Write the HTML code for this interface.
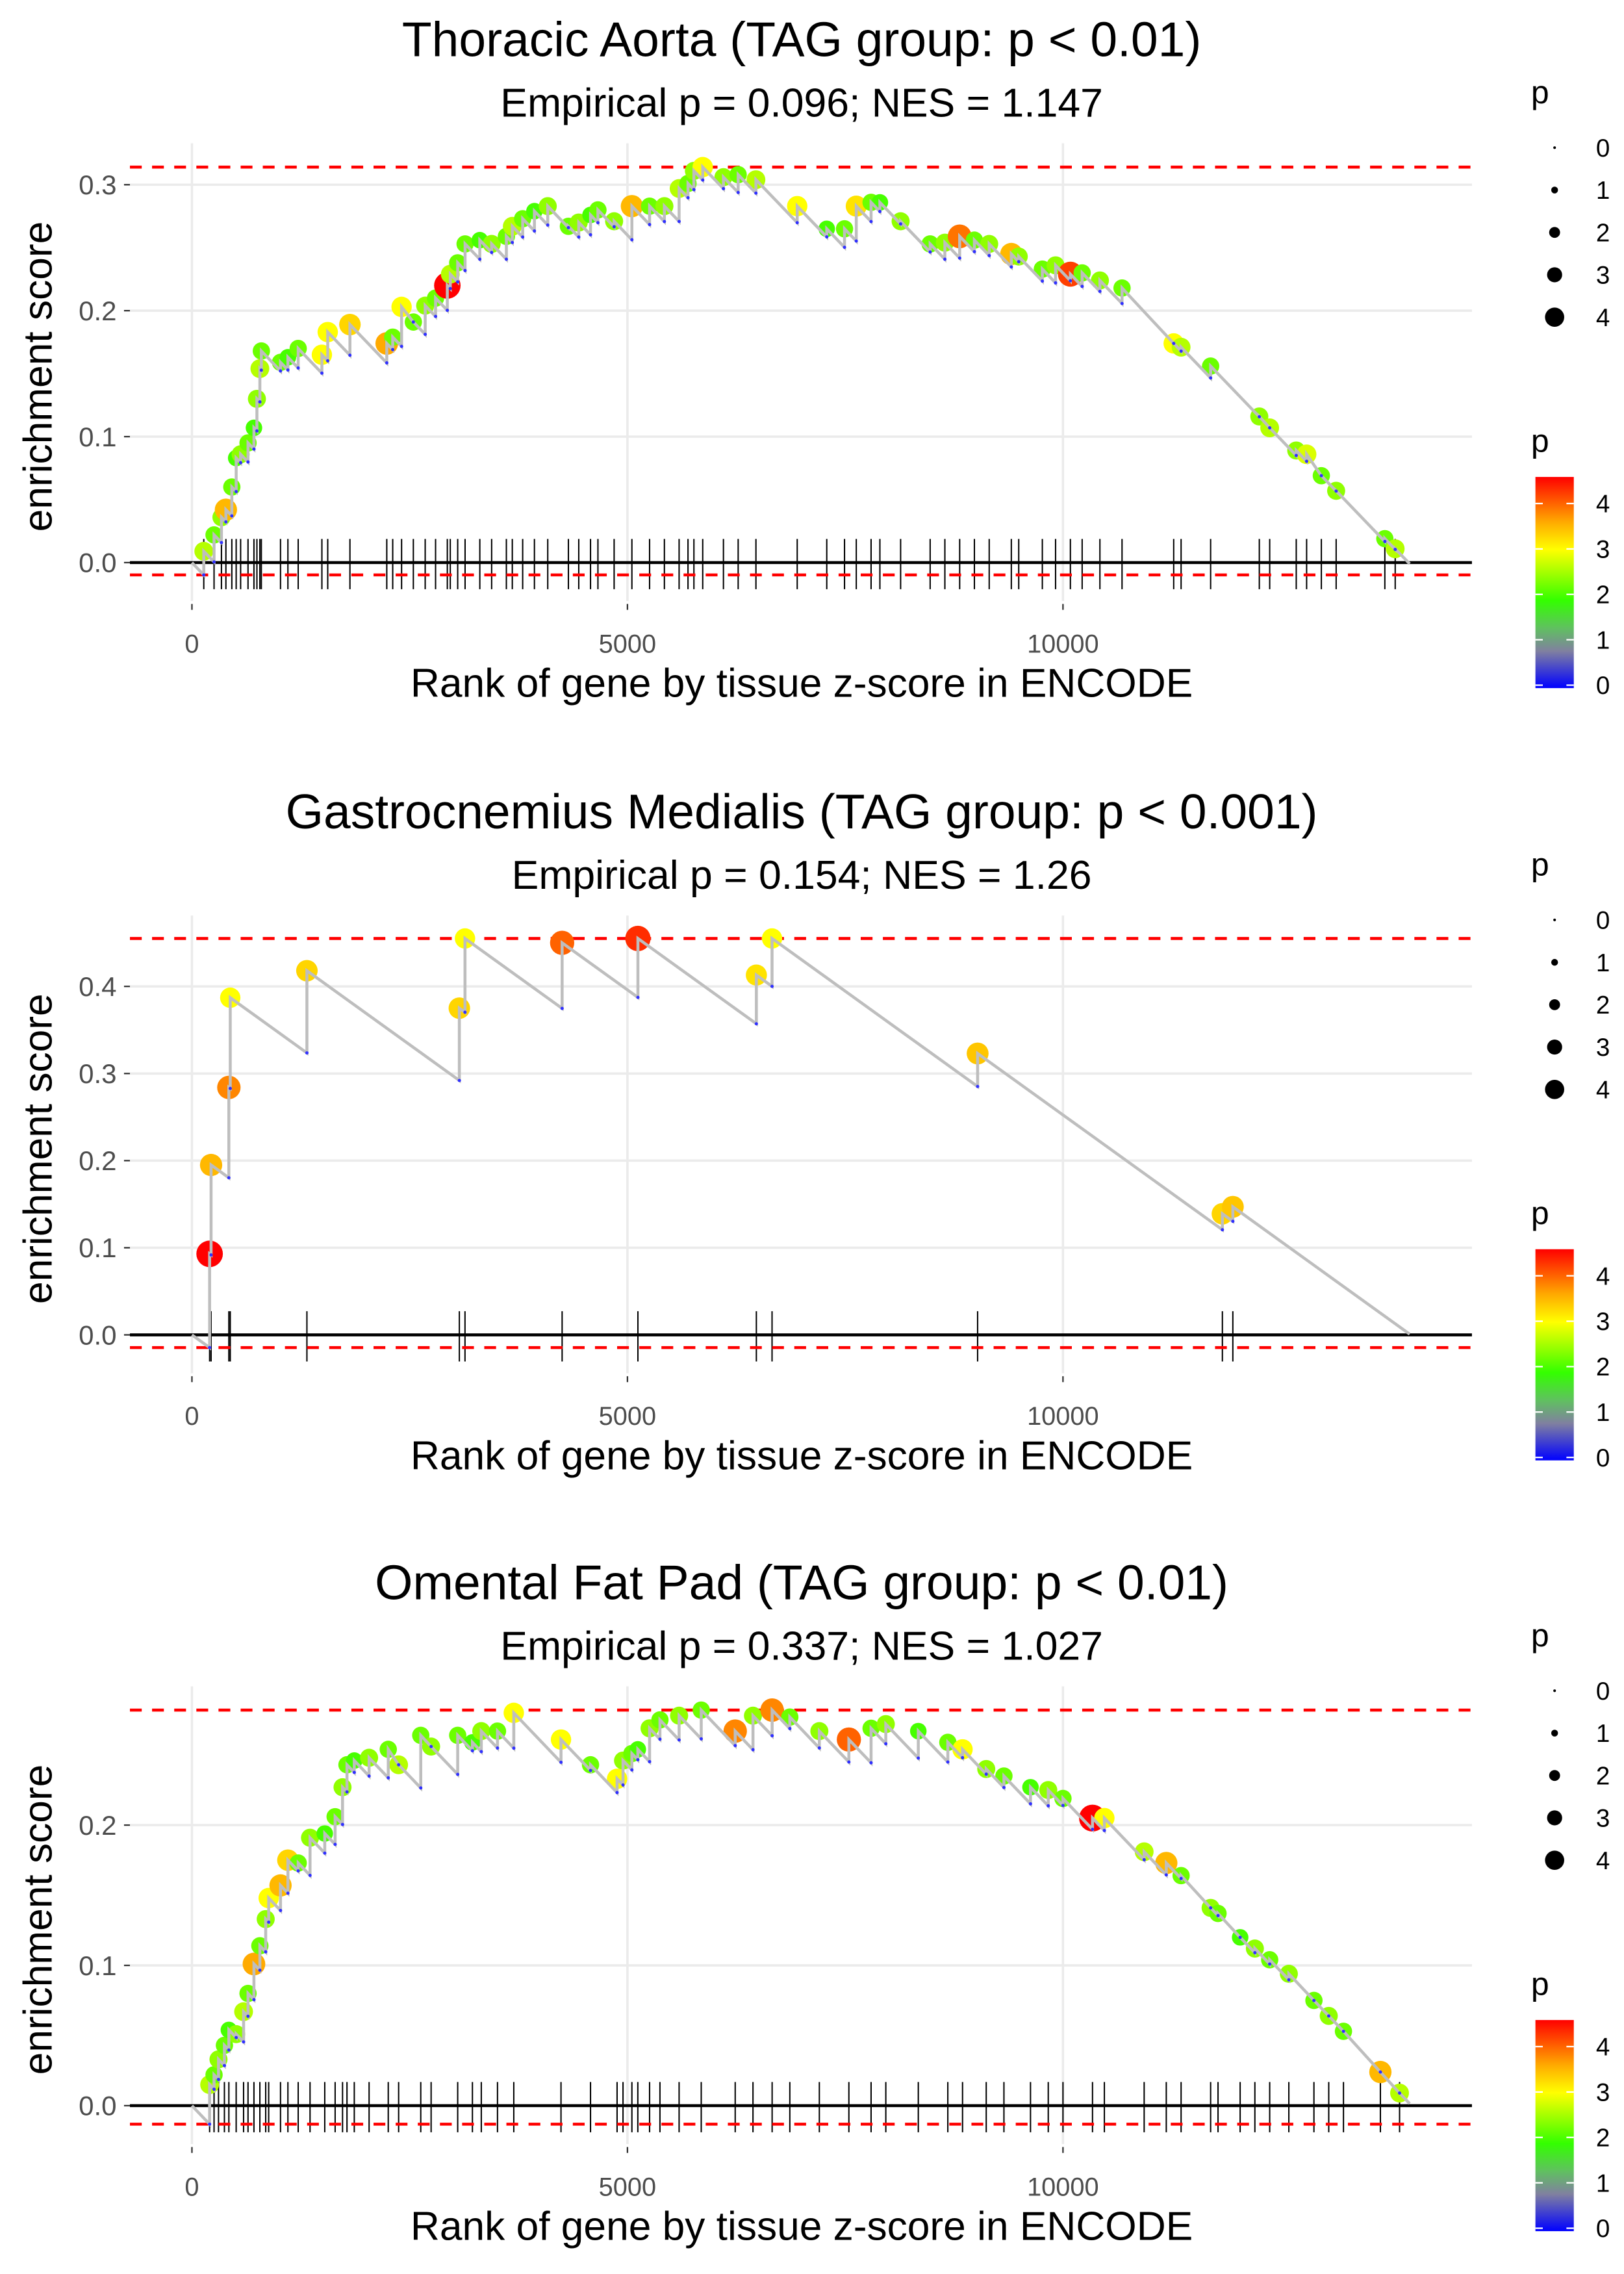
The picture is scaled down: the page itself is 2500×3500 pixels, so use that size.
<!DOCTYPE html>
<html><head><meta charset="utf-8"><style>
html,body{margin:0;padding:0;background:#fff;}
svg{display:block;font-family:"Liberation Sans",sans-serif;}
</style></head><body>
<svg id="chart" width="2500" height="3500" viewBox="0 0 1100 1540" xmlns="http://www.w3.org/2000/svg">
<defs>
<linearGradient id="pgrad" x1="0" y1="1" x2="0" y2="0">
<stop offset="0" stop-color="#0000ff"/><stop offset="0.175" stop-color="#8080a0"/><stop offset="0.284" stop-color="#60c060"/><stop offset="0.415" stop-color="#33ff00"/><stop offset="0.655" stop-color="#ffff00"/><stop offset="0.786" stop-color="#ffaa00"/><stop offset="1" stop-color="#ff0000"/>
</linearGradient>
</defs>
</svg>
<script>
// ---- Panel 1: Thoracic Aorta ----
const p1Ranks=[136,254,339,390,458,508,559,644,712,746,780,797,1017,1102,1220,1492,1559,1814,2237,2305,2407,2542,2678,2797,2932,2966,3051,3136,3305,3441,3610,3678,3797,3932,4085,4322,4441,4576,4661,4847,5051,5254,5424,5593,5695,5763,5864,6102,6271,6475,6949,7288,7492,7627,7797,7898,8136,8475,8644,8814,8983,9153,9407,9492,9763,9915,10085,10220,10424,10678,11271,11356,11695,12254,12373,12678,12797,12966,13136,13695,13814];
const p1ES=[.009,.022,.036,.042,.060,.083,.086,.095,.107,.130,.154,.168,.159,.163,.170,.165,.183,.189,.174,.179,.203,.191,.204,.210,.220,.229,.238,.253,.256,.253,.259,.267,.273,.279,.283,.267,.270,.276,.280,.271,.283,.283,.283,.297,.301,.311,.314,.306,.308,.304,.283,.265,.265,.283,.286,.286,.271,.253,.254,.259,.256,.253,.245,.243,.233,.236,.229,.230,.224,.218,.174,.171,.156,.116,.107,.089,.086,.069,.057,.019,.011];
const p1P=[2.6,2.2,2.4,3.5,2.2,2.0,2.4,2.2,2.0,2.4,2.6,2.2,2.2,2.0,2.2,3.0,3.0,3.3,3.6,2.2,3.0,2.2,2.4,2.2,4.6,2.6,2.2,2.2,2.0,2.4,2.2,2.6,2.2,2.0,2.4,2.2,2.4,2.0,2.2,2.4,3.5,2.2,2.4,2.6,2.2,2.4,3.0,2.4,2.2,2.6,3.0,2.0,2.2,3.2,2.2,2.0,2.4,2.2,2.4,3.9,2.2,2.4,3.5,2.4,2.2,2.4,4.2,2.2,2.4,2.2,3.0,2.6,2.2,2.4,2.6,2.4,2.8,2.2,2.4,2.2,2.6];
const p1YTicks=[0,0.1,0.2,0.3];
const p1YLabels=["0.0","0.1","0.2","0.3"];
// ---- Panel 2: Gastrocnemius Medialis ----
const p2Ranks=[203,220,424,440,1320,3070,3135,4250,5120,6480,6660,9020,11830,11950];
const p2ES=[.093,.195,.284,.387,.418,.375,.455,.450,.455,.413,.455,.323,.139,.147];
const p2P=[4.6,3.5,3.8,3.0,3.3,3.3,3.0,4.0,4.3,3.2,3.0,3.4,3.3,3.4];
const p2YTicks=[0,0.1,0.2,0.3,0.4];
const p2YLabels=["0.0","0.1","0.2","0.3","0.4"];
// ---- Panel 3: Omental Fat Pad ----
const p3Ranks=[203,254,305,373,424,508,593,644,712,780,847,881,1017,1102,1220,1356,1525,1644,1729,1780,1864,2034,2254,2373,2627,2746,3051,3220,3322,3508,3695,4237,4576,4881,4949,5051,5119,5254,5373,5593,5847,6237,6441,6661,6864,7203,7542,7797,7966,8339,8678,8847,9119,9322,9627,9831,10000,10339,10475,10932,11186,11356,11695,11780,12034,12203,12373,12593,12881,13051,13220,13644,13864];
const p3ES=[.015,.022,.033,.043,.054,.051,.067,.080,.101,.114,.133,.148,.157,.175,.173,.191,.194,.206,.227,.243,.246,.248,.254,.243,.264,.256,.264,.259,.267,.267,.280,.261,.243,.233,.246,.251,.254,.269,.275,.278,.282,.267,.278,.282,.277,.267,.261,.269,.272,.267,.259,.254,.240,.235,.227,.225,.219,.205,.205,.181,.173,.164,.141,.137,.120,.112,.104,.094,.075,.064,.053,.024,.009];
const p3P=[2.6,2.2,2.4,2.2,2.0,2.4,2.6,2.2,3.6,2.2,2.4,3.0,3.5,3.3,2.2,2.4,2.0,2.2,2.4,2.2,2.0,2.4,2.2,2.6,2.2,2.4,2.2,2.0,2.4,2.2,3.0,3.0,2.2,3.0,2.4,2.2,2.0,2.4,2.2,2.4,2.2,3.8,2.4,3.8,2.2,2.4,4.0,2.2,2.4,2.0,2.2,3.0,2.4,2.2,2.0,2.4,2.2,4.7,3.0,2.6,3.5,2.2,2.4,2.2,2.0,2.4,2.2,2.4,2.2,2.4,2.2,3.5,2.6];
const p3YTicks=[0,0.1,0.2];
const p3YLabels=["0.0","0.1","0.2"];
const xTicks=[0,5000,10000];
const xLabels=["0","5000","10000"];
const sizeLegend=[0,1,2,3,4];
const colorLegend=[0,1,2,3,4];

const NS="http://www.w3.org/2000/svg";
const svg=document.getElementById('chart');
function mk(tag,attrs,parent){const e=document.createElementNS(NS,tag);for(const k in attrs)e.setAttribute(k,attrs[k]);(parent||svg).appendChild(e);return e;}
const stops=[[0,[0,0,255]],[0.8,[128,128,160]],[1.3,[96,192,96]],[1.9,[51,255,0]],[3,[255,255,0]],[3.6,[255,170,0]],[4.55,[255,0,0]]];
function pColor(p){if(p<=0)return 'rgb(0,0,255)';for(let i=1;i<stops.length;i++){if(p<=stops[i][0]){const a=stops[i-1],b=stops[i],t=(p-a[0])/(b[0]-a[0]);const c=a[1].map((v,j)=>Math.round(v+(b[1][j]-v)*t));return 'rgb('+c.join(',')+')';}}return 'rgb(255,0,0)';}
function pRad(p){return 3+1.3*p;}
const N=13980;
function xS(r){return 130+r*0.059;}

function panel(o){
  const {dy,y0,k,ranks,es,ps,slope,yTicks,yLabels,title,sub,name}=o;
  const g=mk('g',{});
  
  
  const yS=v=>y0-v*k;
  const top=97+dy,bot=407+dy;
  yTicks.forEach(t=>{const l=mk('line',{x1:88,x2:997,y1:yS(t),y2:yS(t),stroke:'#ebebeb','stroke-width':1.6},g);});
  xTicks.forEach(t=>{const l=mk('line',{x1:xS(t),x2:xS(t),y1:top,y2:bot,stroke:'#ebebeb','stroke-width':1.6},g);});
  const before=[];let prevR=0,prevE=0;
  for(let i=0;i<ranks.length;i++){let b=prevE-slope*(ranks[i]-prevR);if(b>es[i])b=es[i];before.push(b);prevR=ranks[i];prevE=es[i];}
  const endE=prevE-slope*(N-prevR);
  const maxE=Math.max(...es),minE=Math.min(0,...before,endE);
  const zl=mk('line',{x1:88,x2:997,y1:yS(0),y2:yS(0),stroke:'#000','stroke-width':2},g);
  
  ranks.forEach(r=>{const l=mk('line',{x1:xS(r),x2:xS(r),y1:yS(0)-16,y2:yS(0)+18,stroke:'#000','stroke-width':0.9},g);});
  [maxE,minE].forEach((v,i)=>{const l=mk('line',{x1:88,x2:997,y1:yS(v),y2:yS(v),stroke:'#ff0000','stroke-width':2,'stroke-dasharray':'8,7'},g);});
  ranks.forEach((r,i)=>{const c=mk('circle',{cx:xS(r),cy:yS(es[i]),r:pRad(ps[i]),fill:pColor(ps[i])},g);});
  let d='M'+xS(0)+','+yS(0);
  ranks.forEach((r,i)=>{d+=' L'+xS(r)+','+yS(before[i])+' L'+xS(r)+','+yS(es[i]);});
  d+=' L'+xS(N)+','+yS(endE);
  const pl=mk('path',{d:d,fill:'none',stroke:'#bebebe','stroke-width':2},g);
  
  ranks.forEach((r,i)=>{const c=mk('circle',{cx:xS(r),cy:yS(before[i]),r:1.1,fill:'#3030ff'},g);});
  yTicks.forEach((t,i)=>{const l=mk('line',{x1:84,x2:88,y1:yS(t),y2:yS(t),stroke:'#333','stroke-width':1},g);
    const tx=mk('text',{x:79,y:yS(t)+6.5,'text-anchor':'end','font-size':18.5,fill:'#4d4d4d'},g);tx.textContent=yLabels[i];});
  xTicks.forEach((t,i)=>{const l=mk('line',{x1:xS(t),x2:xS(t),y1:bot+2,y2:bot+6,stroke:'#333','stroke-width':1},g);
    const tx=mk('text',{x:xS(t),y:dy+442,'text-anchor':'middle','font-size':17.5,fill:'#4d4d4d'},g);tx.textContent=xLabels[i];});
  let t=mk('text',{x:543,y:dy+472,'text-anchor':'middle','font-size':27.4,fill:'#000'},g);t.textContent='Rank of gene by tissue z-score in ENCODE';
  t=mk('text',{x:0,y:0,'text-anchor':'middle','font-size':27.4,fill:'#000',transform:'translate(35,'+(dy+255)+') rotate(-90)'},g);t.textContent='enrichment score';
  t=mk('text',{x:543,y:dy+38,'text-anchor':'middle','font-size':33,fill:'#000'},g);t.textContent=title;
  t=mk('text',{x:543,y:dy+79,'text-anchor':'middle','font-size':27.5,fill:'#000'},g);t.textContent=sub;
  t=mk('text',{x:1037,y:dy+70,'font-size':22,fill:'#000'},g);t.textContent='p';
  sizeLegend.forEach((v,i)=>{const yy=dy+100+i*28.7;const c=mk('circle',{cx:1053,cy:yy,r:0.9+1.4*v,fill:'#000'},g);
    const tx=mk('text',{x:1081,y:yy+6,'font-size':17,fill:'#000'},g);tx.textContent=String(v);});
  t=mk('text',{x:1037,y:dy+306,'font-size':22,fill:'#000'},g);t.textContent='p';
  const cb=mk('rect',{x:1040,y:dy+323,width:26,height:143,fill:'url(#pgrad)'},g);
  colorLegend.forEach(v=>{const yy=dy+464-v*30.75;
    mk('line',{x1:1040,x2:1045,y1:yy,y2:yy,stroke:'#fff','stroke-width':1},g);mk('line',{x1:1061,x2:1066,y1:yy,y2:yy,stroke:'#fff','stroke-width':1},g);
    const tx=mk('text',{x:1081,y:yy+6,'font-size':17,fill:'#000'},g);tx.textContent=String(v);});
}
panel({dy:0,y0:381,k:853,ranks:p1Ranks,es:p1ES,ps:p1P,slope:7.2e-5,yTicks:p1YTicks,yLabels:p1YLabels,title:'Thoracic Aorta (TAG group: p < 0.01)',sub:'Empirical p = 0.096; NES = 1.147',name:'thoracic-aorta'});
panel({dy:523,y0:904,k:590,ranks:p2Ranks,es:p2ES,ps:p2P,slope:7.2e-5,yTicks:p2YTicks,yLabels:p2YLabels,title:'Gastrocnemius Medialis (TAG group: p < 0.001)',sub:'Empirical p = 0.154; NES = 1.26',name:'gastrocnemius'});
panel({dy:1045,y0:1426,k:950,ranks:p3Ranks,es:p3ES,ps:p3P,slope:6.5e-5,yTicks:p3YTicks,yLabels:p3YLabels,title:'Omental Fat Pad (TAG group: p < 0.01)',sub:'Empirical p = 0.337; NES = 1.027',name:'omental-fat-pad'});
</script>
</body></html>
